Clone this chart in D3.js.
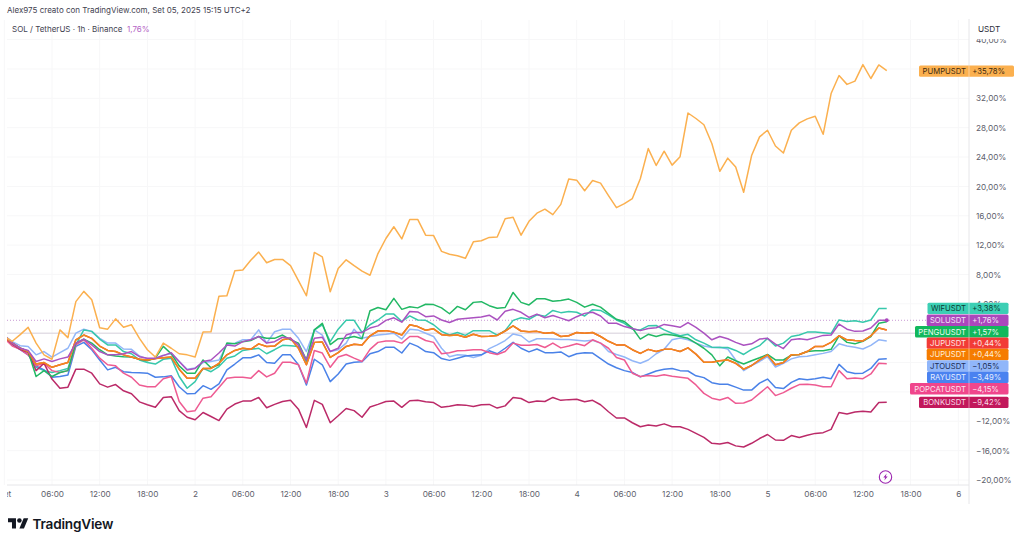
<!DOCTYPE html>
<html lang="it">
<head>
<meta charset="utf-8">
<title>SOL / TetherUS confronto</title>
<style>
  html, body { margin: 0; padding: 0; background: #fff; }
  svg { display: block; font-family: Inter, "Noto Sans", sans-serif; }
  .axis path, .axis line { display: none; }
  .axis text { fill: #5d606b; font-size: 8.2px; font-family: Inter, "Noto Sans", sans-serif; }
</style>
</head>
<body>
<script src="https://cdn.jsdelivr.net/npm/d3@7"></script>
<script>
  // percent change per hour
  var pump = [-0.45,-1.1,-0.2,0.8,-1.35,-2.95,-3.55,0.45,-0.6,4.3,
    5.7,4.55,0.75,0.55,1.95,0.8,1.15,-0.7,-2.25,-3.25,
    -1.35,-2.05,-2.8,-2.95,-3.25,0.15,0.2,5.05,5.1,8.5,
    8.6,9.95,11.05,9.6,10.05,10.05,9.2,7.15,5.1,11.0,
    10.4,5.65,8.8,10.0,9.2,8.45,7.9,10.85,12.9,14.5,
    12.85,15.5,15.5,13.35,13.3,11.15,10.75,10.55,10.2,12.45,
    12.6,13.05,13.1,15.6,15.8,13.35,15.25,16.35,16.9,16.15,
    17.55,21.0,20.85,19.4,20.8,20.45,18.75,17.1,17.65,18.35,
    21.05,25.15,22.85,24.8,22.9,24.05,30.0,29.25,28.4,25.85,
    22.05,23.85,22.65,19.2,24.2,26.75,27.65,25.5,24.55,27.65,
    28.65,29.2,29.55,27.1,32.65,35.1,33.9,34.35,36.6,34.7,36.55,35.78];
  var wif = [-0.35,-1.35,-2.05,-2.5,-4.65,-5.1,-5.35,-5.1,-4.8,-1.6,
    0.45,0.25,-0.8,-1.6,-1.6,-2.5,-2.8,-3.65,-4.0,-4.2,
    -3.55,-3.4,-5.9,-7.5,-6.6,-4.8,-5.25,-4.55,-3.4,-3.1,
    -2.35,-2.2,-2.05,-2.8,-2.25,-1.65,-1.7,-1.8,-3.85,0.45,
    1.15,-1.15,0.55,1.75,1.75,0.1,1.15,1.8,2.6,2.6,
    1.6,2.35,1.8,1.75,1.15,0.25,-0.25,0.1,-0.3,0.35,
    0.35,0.35,-0.25,0.35,1.75,2.1,1.9,2.5,2.3,3.1,
    2.8,2.95,2.85,2.35,3.2,3.1,2.5,1.8,1.35,0.55,
    0.45,1.0,1.05,0.45,0,-0.35,-0.15,-0.9,-1.35,-1.9,
    -1.95,-1.95,-2.35,-2.9,-2.2,-1.7,-0.7,-1.75,-1.35,-0.45,
    -0.25,0.15,0.15,0.05,-0.05,1.8,1.6,1.7,1.5,1.8,3.35,3.38];
  var sol = [-0.25,-1.35,-2.05,-2.35,-3.85,-3.5,-3.85,-3.5,-3.25,-1.35,
    -0.8,-1.6,-2.5,-2.95,-2.95,-2.8,-2.5,-3.2,-3.4,-3.4,
    -3.05,-2.65,-3.85,-5.0,-4.8,-3.85,-3.65,-2.7,-1.6,-1.75,
    -1.15,-0.9,-0.45,-1.35,-1.15,-0.55,-0.7,-1.6,-3.65,-0.7,
    -0.55,-2.5,-2.05,-0.25,0.1,0.1,0.7,1.0,1.75,2.1,
    1.5,2.95,2.9,2.25,2.35,1.8,1.45,1.9,2.0,2.1,
    2.2,2.45,1.8,3.0,3.25,2.85,2.15,2.6,2.1,2.4,
    2.05,1.7,2.25,2.7,2.85,2.35,1.35,1.35,0.9,0.65,
    0.35,0.65,0.75,1.2,1.0,0.8,1.45,0.8,0,-0.9,
    -0.45,-0.75,-1.25,-1.65,-1.45,-0.8,-0.7,-1.5,-2.1,-0.9,
    -0.75,-0.9,-0.6,-0.3,-0.25,1.25,0.55,0.25,0.3,0.7,1.75,1.76];
  var pengu = [-0.45,-1.35,-2.05,-2.5,-5.9,-5.1,-5.9,-5.35,-5.1,-1.35,
    -0.8,-1.35,-2.25,-2.95,-3.1,-3.2,-3.25,-3.55,-3.75,-3.4,
    -1.8,-2.8,-4.45,-5.45,-5.45,-3.65,-4.7,-4.3,-1.35,-1.45,
    -1.15,-1.0,-0.45,-0.7,-0.7,-0.25,-0.9,-1.35,-3.65,0.45,
    1.35,-1.55,-0.75,-0.7,-0.45,-0.75,3.05,3.5,3.2,4.75,
    3.25,3.6,3.45,3.95,3.9,3.45,2.65,3.65,3.2,4.2,
    4.3,3.75,3.4,3.5,5.55,4.2,3.85,4.7,4.7,4.35,
    4.45,4.65,4.2,3.55,3.95,3.55,2.7,1.9,1.6,0.7,
    -0.8,-0.15,-0.45,-0.15,-0.25,-0.45,-0.7,-1.35,-2.05,-2.95,
    -4.45,-3.25,-3.75,-4.2,-3.75,-3.35,-2.9,-3.65,-3.65,-3.0,
    -2.9,-2.5,-2.4,-2.4,-2.2,-0.35,-1.25,-1.45,-1.1,-0.45,1.35,1.57];
  var jup = [-0.55,-1.35,-2.05,-2.5,-4.2,-4.0,-4.65,-4.3,-4.0,-0.9,
    -0.25,-0.7,-1.75,-2.35,-2.5,-2.95,-3.25,-3.55,-3.65,-3.45,
    -3.35,-3.25,-4.9,-6.15,-6.15,-4.8,-4.8,-4.1,-2.95,-2.35,
    -2.05,-2.2,-1.45,-1.8,-1.75,-0.9,-0.7,-2.05,-4.3,-1.25,
    -1.2,-3.3,-2.65,-1.8,-1.5,-1.6,-0.35,0.3,0.35,0.15,
    -0.25,1.15,0.9,0.4,0.6,-0.2,-0.3,-0.25,-0.55,-0.15,
    -0.45,-0.4,-0.3,0.3,1.0,0.3,0.2,0.25,0,0.1,
    -0.45,-0.35,0.1,0,0.1,-0.45,-1.1,-1.6,-1.6,-2.25,
    -2.75,-2.2,-2.5,-2.2,-2.2,-2.5,-2.0,-2.85,-3.95,-3.95,
    -3.75,-3.65,-4.1,-4.9,-4.4,-3.65,-2.95,-4.3,-4.0,-2.95,
    -2.9,-2.5,-1.8,-1.8,-1.25,-0.35,-0.9,-1.0,-1.05,-0.35,0.7,0.44];
  var jto = [-0.35,-1.15,-1.7,-1.8,-2.95,-2.5,-3.25,-2.65,-2.05,0,
    0.55,0.25,-0.7,-1.35,-1.35,-2.15,-2.2,-3.1,-3.5,-3.5,
    -3.0,-2.8,-3.85,-4.9,-4.75,-4.0,-3.85,-3.65,-1.6,-1.35,
    -0.9,-0.9,0.45,-1.35,0.2,0.55,0.55,-0.7,-2.5,0.45,
    -0.25,-2.5,-2.25,-1.35,0.55,-0.7,-0.45,-0.25,-0.15,0,
    -0.8,0.55,0.45,0,-0.45,-2.05,-3.2,-2.95,-3.0,-3.3,
    -3.0,-2.1,-1.6,-1.0,-0.1,-0.35,-1.2,-0.75,-0.75,-0.8,
    -0.85,-0.85,-0.95,-1.05,-0.95,-1.35,-2.5,-2.9,-3.25,-3.75,
    -4.1,-3.65,-2.8,-2.2,-0.9,-0.65,-0.9,-1.35,-1.75,-1.95,
    -1.9,-2.15,-3.65,-5.1,-4.4,-3.85,-3.2,-4.6,-4.1,-3.5,
    -3.2,-3.15,-2.95,-2.75,-2.5,-1.45,-1.75,-1.9,-2.15,-1.65,-0.9,-1.05];
  var ray = [-0.55,-1.6,-2.25,-2.95,-4.45,-5.0,-6.0,-5.9,-5.7,-1.8,
    -1.25,-2.25,-3.65,-5.0,-4.65,-5.25,-5.35,-5.4,-5.45,-6.0,
    -5.95,-5.8,-7.3,-8.25,-8.2,-7.15,-7.65,-6.9,-5.0,-4.2,
    -3.35,-3.35,-2.95,-4.0,-4.1,-2.95,-2.95,-4.3,-7.05,-3.55,
    -4.3,-6.6,-5.55,-4.2,-3.95,-3.9,-2.8,-2.5,-1.9,-1.9,
    -2.7,-1.35,-1.8,-2.5,-2.65,-3.45,-3.7,-3.4,-3.1,-3.0,
    -2.95,-2.4,-2.8,-2.05,-1.25,-2.05,-2.55,-2.15,-2.65,-2.65,
    -2.55,-3.2,-2.8,-2.65,-2.7,-3.45,-4.2,-4.7,-5.1,-5.35,
    -5.95,-5.55,-5.15,-4.9,-4.8,-5.1,-5.15,-5.8,-6.05,-6.75,
    -6.95,-6.95,-7.35,-7.75,-7.75,-6.8,-6.25,-7.4,-7.55,-6.7,
    -6.2,-6.35,-6.2,-6.0,-6.2,-4.25,-5.25,-5.5,-5.45,-4.8,-3.55,-3.49];
  var popcat = [-0.7,-1.75,-2.2,-2.95,-4.45,-4.1,-5.1,-5.35,-5.1,-1.6,
    -0.9,-2.05,-3.4,-4.3,-4.45,-5.45,-6.0,-7.05,-7.3,-7.3,
    -6.2,-5.9,-9.3,-10.7,-10.55,-8.85,-8.65,-7.4,-6.15,-6.0,
    -6.0,-6.15,-5.1,-5.95,-5.45,-3.95,-3.95,-4.3,-6.8,-2.35,
    -2.7,-4.65,-3.25,-2.9,-3.4,-3.85,-2.2,-1.25,-1.05,-1.05,
    -1.35,-0.45,-0.45,-1.0,-1.25,-2.8,-2.65,-2.4,-2.35,-2.25,
    -2.25,-2.65,-2.9,-2.5,-1.35,-1.65,-1.65,-1.55,-1.95,-1.35,
    -2.0,-1.75,-1.45,-1.7,-0.9,-1.35,-2.05,-3.3,-3.65,-5.45,
    -5.9,-5.75,-5.85,-5.65,-5.85,-6.0,-6.15,-7.05,-8.2,-8.85,
    -9.1,-8.75,-9.55,-9.5,-9.1,-8.2,-7.3,-8.5,-8.1,-7.5,
    -7.0,-6.95,-7.05,-7.3,-7.3,-5.1,-6.2,-6.1,-6.2,-5.55,-4.1,-4.15];
  var bonk = [-0.55,-1.45,-2.2,-2.65,-5.1,-4.1,-6.25,-7.5,-7.35,-4.9,
    -4.9,-5.45,-6.9,-7.35,-7.0,-7.85,-8.25,-9.35,-9.75,-10.1,
    -8.75,-8.65,-10.55,-11.45,-11.8,-10.8,-11.35,-11.9,-10.35,-9.65,
    -9.25,-9.25,-8.75,-10.15,-9.7,-9.3,-9.15,-10.35,-12.85,-9.15,
    -9.7,-12.2,-11.25,-10.25,-10.55,-11.45,-10.05,-9.7,-9.3,-9.25,
    -10.1,-9.2,-9.15,-9.35,-9.45,-10.1,-9.95,-9.75,-9.8,-10.0,
    -9.75,-9.7,-10.2,-9.9,-8.75,-8.9,-9.45,-9.25,-9.3,-8.75,
    -9.15,-9.05,-9.0,-9.35,-9.15,-9.75,-10.7,-11.55,-11.55,-12.2,
    -12.75,-12.5,-12.65,-12.35,-12.75,-12.75,-13.1,-13.65,-14.2,-15.0,
    -15.1,-14.9,-15.35,-15.5,-15.0,-14.35,-13.8,-14.55,-14.6,-13.95,
    -14.2,-13.9,-13.65,-13.55,-13.1,-10.8,-11.0,-10.75,-10.65,-10.75,-9.45,-9.42];

  // tag texts, top to bottom
  var names = ["WIFUSDT", "SOLUSDT", "PENGUUSDT", "JUPUSDT", "JUPUSDT", "JTOUSDT", "RAYUSDT", "POPCATUSDT", "BONKUSDT"];
  var changes = ["+3,38%", "+1,76%", "+1,57%", "+0,44%", "+0,44%", "\u22121,05%", "\u22123,49%", "\u22124,15%", "\u22129,42%"];
  var lastValues = [3.38, 1.76, 1.57, 0.44, 0.44, -1.05, -3.49, -4.15, -9.42];
  var colors = ["#3ccfb4", "#ab47bc", "#12b85c", "#f23b36", "#f57c00", "#90b6fa", "#4a82f0", "#f0468c", "#c2185b"];
  var textColors = ["#0b3d33", "#f5e3f8", "#eafbf0", "#fde5e4", "#fff0dd", "#1d2f55", "#e6eefe", "#fde4ee", "#f8dbe7"];
  var lineColors = ["#37c8ab", "#ab52c0", "#22b864", "#f23b36", "#f08a1c", "#92b6f8", "#4a82e8", "#ee5b92", "#bb2a68"];
  var seriesData = [wif, sol, pengu, jup, jup, jto, ray, popcat, bonk];

  var pumpName = "PUMPUSDT", pumpChange = "+35,78%", pumpLast = 35.78;
  var pumpColor = "#fbb04f";

  // axis ticks, the ones hidden behind tags get no label
  var xTickHours = d3.range(0, 126, 6);
  var xTickLabels = ["Set", "06:00", "12:00", "18:00", "2", "06:00", "12:00", "18:00", "3", "06:00", "12:00", "18:00", "4", "06:00", "12:00", "18:00", "5", "06:00", "12:00", "18:00", "6"];
  var gridTicks = [40, 36, 32, 28, 24, 20, 16, 12, 8, 4, 0, -4, -8, -12, -16, -20];
  var yTicks = [40, 32, 28, 24, 20, 16, 12, 8, 4, -12, -16, -20];
  var yTickLabels = ["40,00%", "32,00%", "28,00%", "24,00%", "20,00%", "16,00%", "12,00%", "8,00%", "4,00%", "\u221212,00%", "\u221216,00%", "\u221220,00%"];

  var w = 1024, h = 544;
  var left = 7, axisX = 969, axisY = 485;

  var x = d3.scaleLinear().domain([0, 111]).range([4.3, 886.75]);
  var y = d3.scaleLinear().domain([-20, 40]).range([480, 39.6]);

  var svg = d3.select("body").append("svg").attr("width", w).attr("height", h);

  svg.append("defs").append("clipPath").attr("id", "plot")
    .append("rect").attr("x", left).attr("y", 20).attr("width", axisX - left).attr("height", axisY - 20);

  // faint grid
  var grid = svg.append("g").attr("stroke", "#f7f7f8").attr("stroke-width", 1);
  grid.selectAll(".gx").data(xTickHours).enter().append("line")
    .attr("x1", function(d) { return x(d); }).attr("x2", function(d) { return x(d); })
    .attr("y1", 20).attr("y2", axisY);
  grid.selectAll(".gy").data(gridTicks).enter().append("line")
    .attr("x1", left).attr("x2", axisX)
    .attr("y1", function(d) { return y(d); }).attr("y2", function(d) { return y(d); });

  // zero line and SOL last value line
  svg.append("line").attr("x1", left).attr("x2", axisX)
    .attr("y1", y(0)).attr("y2", y(0)).attr("stroke", "#d9d3dc").attr("stroke-width", 1);
  svg.append("line").attr("x1", left).attr("x2", axisX)
    .attr("y1", y(1.76)).attr("y2", y(1.76)).attr("stroke", "#c99ad4")
    .attr("stroke-width", 1).attr("stroke-dasharray", "1 2");

  var line = d3.line()
    .x(function(d, i) { return x(i); })
    .y(function(d) { return y(d); });

  var plot = svg.append("g").attr("clip-path", "url(#plot)").attr("fill", "none")
    .attr("stroke-width", 1.5).attr("stroke-linejoin", "round");

  // draw order so the right colours end up on top
  [5, 0, 6, 7, 8, 2, 3, 4, 1].forEach(function(k) {
    plot.append("path").datum(seriesData[k]).attr("d", line).attr("stroke", lineColors[k]);
  });
  plot.append("path").datum(pump).attr("d", line).attr("stroke", pumpColor);

  svg.append("circle").attr("cx", x(111)).attr("cy", y(1.76)).attr("r", 2).attr("fill", colors[1]);

  // axes
  svg.append("line").attr("x1", left).attr("x2", axisX).attr("y1", axisY).attr("y2", axisY).attr("stroke", "#e6e6e9");
  svg.append("line").attr("x1", axisX).attr("x2", axisX).attr("y1", 19).attr("y2", 504).attr("stroke", "#e6e6e9");

  var xAxis = svg.append("g").attr("class", "axis")
    .attr("transform", "translate(0," + axisY + ")")
    .call(d3.axisBottom(x).tickValues(xTickHours).tickSize(0).tickPadding(6)
      .tickFormat(function(d, i) { return xTickLabels[i]; }));

  var yAxis = svg.append("g").attr("class", "axis")
    .attr("transform", "translate(" + axisX + ",0)")
    .call(d3.axisRight(y).tickValues(yTicks).tickSize(0).tickPadding(7)
      .tickFormat(function(d, i) { return yTickLabels[i]; }));

  // covers: left edge cuts "Set", top cuts 40,00%
  svg.append("rect").attr("x", 0).attr("y", axisY + 1).attr("width", left).attr("height", 20).attr("fill", "#fff");
  svg.append("rect").attr("x", axisX + 1).attr("y", 20).attr("width", 50).attr("height", 19).attr("fill", "#fff");

  svg.append("text").attr("x", 978).attr("y", 32).attr("fill", "#2a2e39").attr("font-size", 8.2).text("USDT");

  // last value tags, pushed down when they would overlap
  var tagH = 11.4;
  function drawTag(cy, name, change, color, textColor, tagLeft, tagRight) {
    var g = svg.append("g");
    g.append("rect").attr("x", tagLeft).attr("y", cy - tagH / 2).attr("width", tagRight - tagLeft).attr("height", tagH)
      .attr("rx", 1.5).attr("fill", color);
    g.append("line").attr("x1", axisX).attr("x2", axisX).attr("y1", cy - tagH / 2).attr("y2", cy + tagH / 2)
      .attr("stroke", "#fff").attr("stroke-opacity", 0.45);
    g.append("text").attr("x", axisX - 3).attr("y", cy + 2.9).attr("text-anchor", "end")
      .attr("font-size", 7.7).attr("fill", textColor).text(name);
    g.append("text").attr("x", axisX + 3.2).attr("y", cy + 2.9)
      .attr("font-size", 7.7).attr("fill", textColor).text(change);
  }

  var tagLefts = [927.5, 926.7, 915, 926.7, 926.7, 927, 927, 910, 919];
  var prev = -100;
  names.forEach(function(n, i) {
    var cy = Math.max(y(lastValues[i]), prev + tagH);
    prev = cy;
    drawTag(cy, n, changes[i], colors[i], textColors[i], tagLefts[i], 1008.5);
  });
  drawTag(y(pumpLast) + 0.6, pumpName, pumpChange, pumpColor, "#3d2a10", 919, 1014);

  // chart header
  svg.append("text").attr("x", 7).attr("y", 13).attr("font-size", 8).attr("fill", "#3f4250")
    .text("Alex975 creato con TradingView.com, Set 05, 2025 15:15 UTC+2");
  svg.append("text").attr("x", 12).attr("y", 31.5).attr("font-size", 8).attr("fill", "#3f4250")
    .text("SOL / TetherUS \u00b7 1h \u00b7 Binance");
  svg.append("text").attr("x", 127).attr("y", 31.5).attr("font-size", 8).attr("fill", "#b565c6").text("1,76%");

  // lightning badge
  var badge = svg.append("g").attr("transform", "translate(885.5,477)");
  badge.append("circle").attr("r", 6.2).attr("fill", "#fff").attr("stroke", "#9c27b0").attr("stroke-width", 1.1);
  badge.append("path").attr("d", "M1.2,-3.4 L-2.2,0.6 L-0.3,0.6 L-1.2,3.4 L2.2,-0.6 L0.3,-0.6 Z").attr("fill", "#9c27b0");

  // logo
  var logo = svg.append("g").attr("transform", "translate(8,516) scale(0.57)").attr("fill", "#131722");
  logo.append("path").attr("d", "M14 22H7V11H0V4h14v18zM28 22h-8l7.5-18h8L28 22z");
  logo.append("circle").attr("cx", 20).attr("cy", 8).attr("r", 4);
  svg.append("text").attr("x", 32.5).attr("y", 529).attr("font-size", 13.6).attr("font-weight", 600)
    .attr("fill", "#131722").attr("letter-spacing", "-0.2").text("TradingView");
</script>
</body>
</html>
